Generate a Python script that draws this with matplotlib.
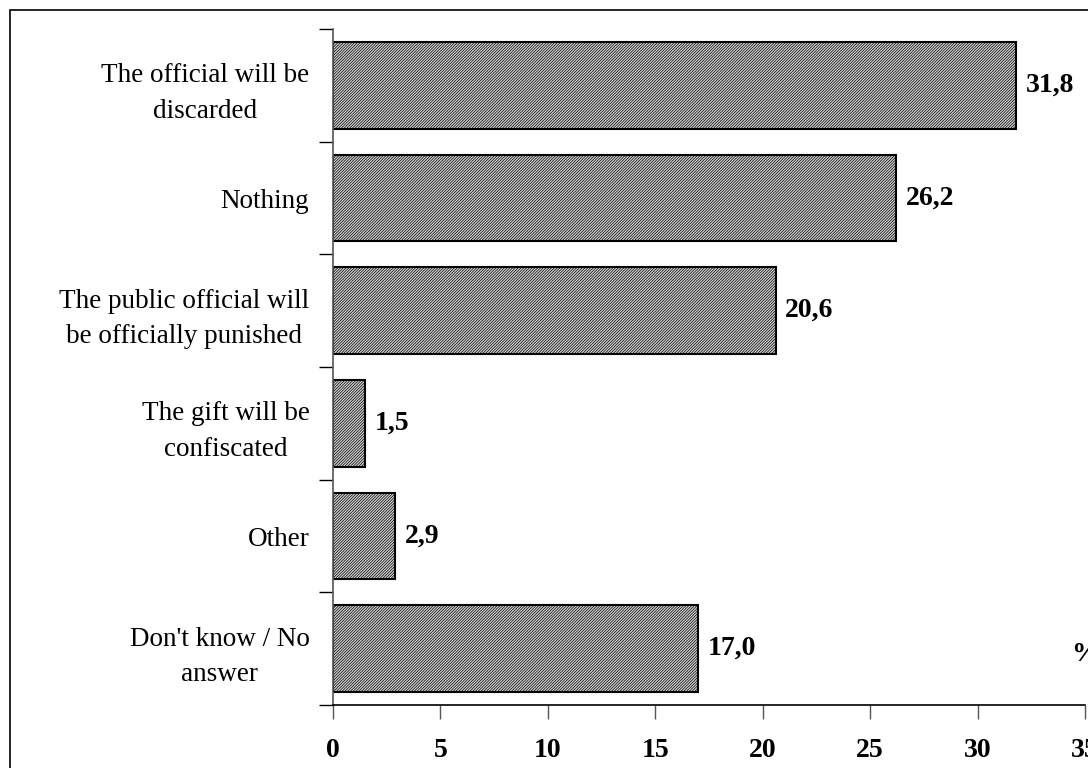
import matplotlib

matplotlib.use("Agg")

import matplotlib.pyplot as plt
from matplotlib.patches import Rectangle

categories = [
    "The official will be\ndiscarded",
    "Nothing",
    "The public official will\nbe officially punished",
    "The gift will be\nconfiscated",
    "Other",
    "Don't know / No\nanswer",
]
values = [31.8, 26.2, 20.6, 1.5, 2.9, 17.0]
value_labels = ["31,8", "26,2", "20,6", "1,5", "2,9", "17,0"]
x_ticks = [0, 5, 10, 15, 20, 25, 30, 35]

plt.rcParams["font.family"] = ["Liberation Serif", "DejaVu Serif"]
plt.rcParams["hatch.color"] = "#b4b4b4"
plt.rcParams["hatch.linewidth"] = 0.5

fig = plt.figure(figsize=(10.88, 7.68), dpi=100)
ax = fig.add_axes([333 / 1088, 63 / 768, 752 / 1088, 676 / 768])

# outer frame of the chart area (cut at right and bottom like the source)
fig.patches.append(Rectangle((10 / 1088, -0.1), 1.2, (758 / 768) + 0.1,
                             transform=fig.transFigure, fill=False,
                             edgecolor="black", linewidth=1.2))

n = len(categories)
pos = [n - 1 - i for i in range(n)]
ax.barh(pos, values, height=0.77, color="#d2d2d2", edgecolor="black",
        linewidth=1.5, hatch="////////////")

for p, v, lab in zip(pos, values, value_labels):
    ax.text(v + 0.45, p, lab, ha="left", va="center",
            fontsize=20, fontweight="bold")

ax.text(35.0, -0.05, "%", ha="center", va="center",
        fontsize=20, fontweight="bold")

ax.set_xlim(0, 35)
ax.set_ylim(-0.5, n - 0.5)

ax.set_xticks(x_ticks)
ax.set_xticklabels([str(t) for t in x_ticks], fontsize=20, fontweight="bold")
ax.tick_params(axis="x", direction="out", length=10, width=1, pad=14,
               color="#555555")

ax.set_yticks(pos)
ax.set_yticklabels(categories, fontsize=19.5, multialignment="center",
                   linespacing=1.55)
ax.set_yticks([i - 0.5 for i in range(n + 1)], minor=True)
ax.tick_params(axis="y", which="major", length=0, pad=17)
ax.tick_params(axis="y", which="minor", direction="out", length=10, width=1)

for side in ["top", "right"]:
    ax.spines[side].set_visible(False)
ax.spines["left"].set_color("#555555")
ax.spines["left"].set_linewidth(1.2)
ax.spines["bottom"].set_linewidth(1.2)

fig.savefig("out.png", dpi=100)
